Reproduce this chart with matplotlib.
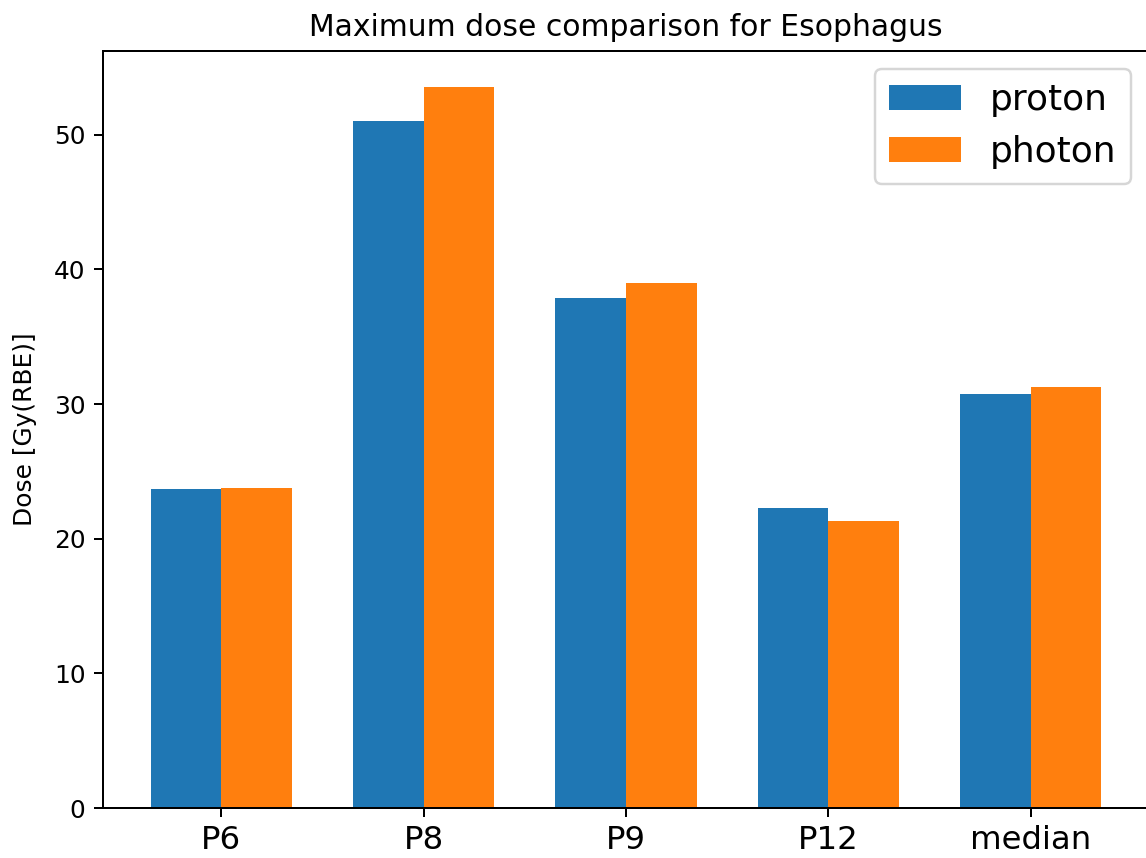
import numpy as np
import matplotlib
matplotlib.use("Agg")
import matplotlib.pyplot as plt

# ----------------------------
# Data
# ----------------------------
patients = ["P6", "P8", "P9", "P12", "median"]
proton = [23.7, 51.05, 37.85, 22.3, 30.75]
photon = [23.8, 53.55, 39.0, 21.3, 31.3]

# ----------------------------
# Plot
# ----------------------------
fig = plt.figure(figsize=(1146 / 179, 858 / 179), dpi=179)
ax = fig.add_axes([103 / 1146, 50 / 858, 1046 / 1146, 757 / 858])

x = np.arange(len(patients))
width = 0.35
ax.bar(x - width / 2, proton, width, label="proton")
ax.bar(x + width / 2, photon, width, label="photon")

ax.set_xticks(x)
ax.set_xticklabels(patients, fontsize=13)
ax.set_ylabel("Dose [Gy(RBE)]", labelpad=7)
ax.set_title("Maximum dose comparison for Esophagus")
ax.legend(fontsize=14.5)

fig.savefig("out.png", dpi=179)
